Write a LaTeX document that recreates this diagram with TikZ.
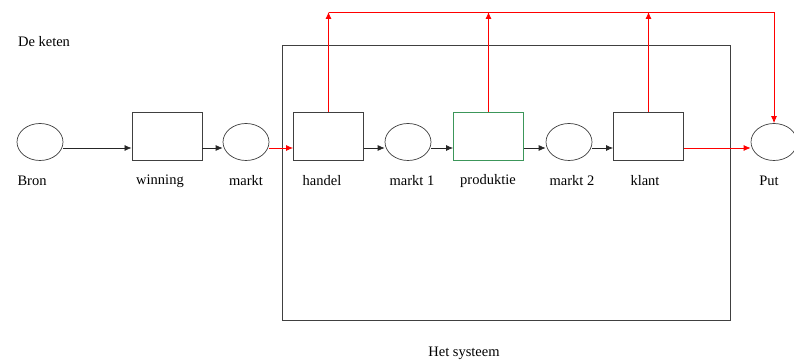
\documentclass[tikz,border=0pt]{standalone}
\usepackage{fontspec}
\setmainfont{Liberation Serif}
\usepackage{tikz}
\usetikzlibrary{arrows.meta,shapes}
\definecolor{boxgreen}{RGB}{60,150,90}
\newcommand{\flowy}{148}
\newcommand{\topy}{12}

\begin{document}
\begin{tikzpicture}[x=1pt,y=-1pt,
    txt/.style={font=\fontsize{14.5}{16}\selectfont, inner sep=0pt},
    place/.style={draw=black!75, ellipse, minimum width=46pt, minimum height=37pt, inner sep=0pt, line width=0.7pt},
    trans/.style={draw=black!75, rectangle, minimum width=70pt, minimum height=48pt, inner sep=0pt, line width=0.9pt},
    flow/.style={-{Latex[length=7pt,width=6pt]}, black!85, line width=0.7pt},
    redflow/.style={-{Latex[length=7pt,width=6pt]}, red, line width=0.8pt}]
    \useasboundingbox (0,0) rectangle (794,363);
    % het systeem
    \draw[black!75, line width=0.9pt] (282,45) rectangle (730,320);
    \node[txt] (keten) at (44,42) {De keten};
    \node[txt] (systeem) at (464,353) {Het systeem};
    % plaatsen en transities
    \node[place] (bron) at (40,142) {};
    \node[trans] (winning) at (167,136) {};
    \node[place] (markt) at (246,142) {};
    \node[trans] (handel) at (328.5,136) {};
    \node[place] (markt1) at (408,142) {};
    \node[trans, draw=boxgreen] (produktie) at (488.5,136) {};
    \node[place] (markt2) at (569,142) {};
    \node[trans] (klant) at (648.5,136) {};
    \node[place] (put) at (774,142) {};
    % namen
    \node[txt] (bronlbl) at (32,181) {Bron};
    \node[txt] (winninglbl) at (160,181) {winning};
    \node[txt] (marktlbl) at (246,181) {markt};
    \node[txt] (handellbl) at (322,181) {handel};
    \node[txt] (markt1lbl) at (412,181) {markt 1};
    \node[txt] (produktielbl) at (488,181) {produktie};
    \node[txt] (markt2lbl) at (572,181) {markt 2};
    \node[txt] (klantlbl) at (645,181) {klant};
    \node[txt] (putlbl) at (769,181) {Put};
    % stroom
    \draw[flow] (bron.east |- 0,\flowy) -- (winning.west |- 0,\flowy);
    \draw[flow] (winning.east |- 0,\flowy) -- (markt.west |- 0,\flowy);
    \draw[redflow] (markt.east |- 0,\flowy) -- (handel.west |- 0,\flowy);
    \draw[flow] (handel.east |- 0,\flowy) -- (markt1.west |- 0,\flowy);
    \draw[flow] (markt1.east |- 0,\flowy) -- (produktie.west |- 0,\flowy);
    \draw[flow] (produktie.east |- 0,\flowy) -- (markt2.west |- 0,\flowy);
    \draw[flow] (markt2.east |- 0,\flowy) -- (klant.west |- 0,\flowy);
    \draw[redflow] (klant.east |- 0,\flowy) -- (put.west |- 0,\flowy);
    % terugkoppeling
    \coordinate (t1) at (handel.north |- 0,\topy);
    \coordinate (t2) at (produktie.north |- 0,\topy);
    \coordinate (t3) at (klant.north |- 0,\topy);
    \coordinate (t4) at (put.north |- 0,\topy);
    \draw[redflow] (handel.north) -- (t1);
    \draw[redflow] (produktie.north) -- (t2);
    \draw[redflow] (klant.north) -- (t3);
    \draw[redflow] (t1) -- (t4) -- (put.north);
\end{tikzpicture}
\end{document}
